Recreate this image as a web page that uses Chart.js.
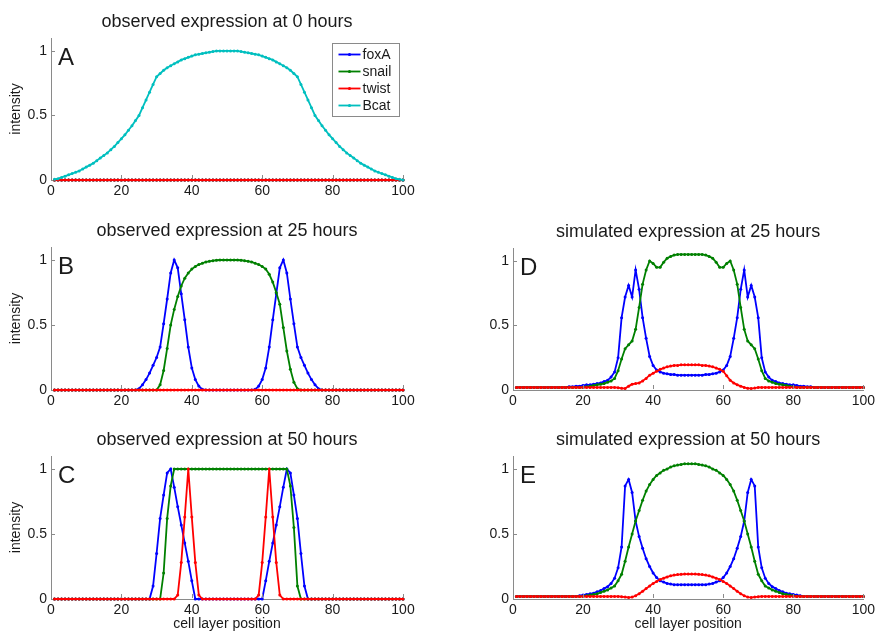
<!DOCTYPE html>
<html>
<head>
<meta charset="utf-8">
<title>foxA / snail / twist / Bcat expression</title>
<script src="https://cdn.jsdelivr.net/npm/chart.js@4.4.0/dist/chart.umd.min.js"></script>
<style>
	body { margin: 0; background: #fff; }
	#figure { position: relative; width: 878px; height: 633px; overflow: hidden; background: #fff; }
	#figure canvas { position: absolute; }
</style>
</head>
<body>
<div id="figure">
	<canvas id="panelA"></canvas>
	<canvas id="panelB"></canvas>
	<canvas id="panelC"></canvas>
	<canvas id="panelD"></canvas>
	<canvas id="panelE"></canvas>
</div>
<script>
// cell layer positions along the x axis
const cellPos = [
	1, 2, 3, 4, 5, 6, 7, 8, 9, 10,
	11, 12, 13, 14, 15, 16, 17, 18, 19, 20,
	21, 22, 23, 24, 25, 26, 27, 28, 29, 30,
	31, 32, 33, 34, 35, 36, 37, 38, 39, 40,
	41, 42, 43, 44, 45, 46, 47, 48, 49, 50,
	51, 52, 53, 54, 55, 56, 57, 58, 59, 60,
	61, 62, 63, 64, 65, 66, 67, 68, 69, 70,
	71, 72, 73, 74, 75, 76, 77, 78, 79, 80,
	81, 82, 83, 84, 85, 86, 87, 88, 89, 90,
	91, 92, 93, 94, 95, 96, 97, 98, 99, 100
];
const xTicks = [0, 20, 40, 60, 80, 100];
const yTicks = [0, 0.5, 1];
const geneNames = ["foxA", "snail", "twist", "Bcat"];

// no expression at all
const noExpr = [
	0, 0, 0, 0, 0, 0, 0, 0, 0, 0,
	0, 0, 0, 0, 0, 0, 0, 0, 0, 0,
	0, 0, 0, 0, 0, 0, 0, 0, 0, 0,
	0, 0, 0, 0, 0, 0, 0, 0, 0, 0,
	0, 0, 0, 0, 0, 0, 0, 0, 0, 0,
	0, 0, 0, 0, 0, 0, 0, 0, 0, 0,
	0, 0, 0, 0, 0, 0, 0, 0, 0, 0,
	0, 0, 0, 0, 0, 0, 0, 0, 0, 0,
	0, 0, 0, 0, 0, 0, 0, 0, 0, 0,
	0, 0, 0, 0, 0, 0, 0, 0, 0, 0
];

// A: observed at 0 hours
const bcat0 = [
	0.005, 0.01, 0.02, 0.03, 0.04, 0.05, 0.06, 0.07, 0.085, 0.10,
	0.115, 0.13, 0.15, 0.17, 0.19, 0.21, 0.235, 0.26, 0.29, 0.32,
	0.35, 0.385, 0.42, 0.46, 0.50, 0.56, 0.62, 0.68, 0.74, 0.80,
	0.825, 0.85, 0.87, 0.885, 0.90, 0.915, 0.93, 0.94, 0.95, 0.96,
	0.97, 0.975, 0.98, 0.985, 0.99, 0.995, 1, 1, 1, 1,
	1, 1, 1, 0.995, 0.99, 0.985, 0.98, 0.975, 0.97, 0.96,
	0.95, 0.94, 0.93, 0.915, 0.90, 0.885, 0.87, 0.85, 0.825, 0.80,
	0.74, 0.68, 0.62, 0.56, 0.50, 0.46, 0.42, 0.385, 0.35, 0.32,
	0.29, 0.26, 0.235, 0.21, 0.19, 0.17, 0.15, 0.13, 0.115, 0.10,
	0.085, 0.07, 0.06, 0.05, 0.04, 0.03, 0.02, 0.01, 0.005, 0
];

// B: observed at 25 hours
const foxA25obs = [
	0, 0, 0, 0, 0, 0, 0, 0, 0, 0,
	0, 0, 0, 0, 0, 0, 0, 0, 0, 0,
	0, 0, 0, 0, 0.01, 0.04, 0.08, 0.13, 0.19, 0.25,
	0.33, 0.51, 0.70, 0.90, 1, 0.94, 0.74, 0.54, 0.33, 0.17,
	0.08, 0.03, 0.005, 0, 0, 0, 0, 0, 0, 0,
	0, 0, 0, 0, 0, 0, 0, 0.005, 0.03, 0.08,
	0.17, 0.33, 0.54, 0.74, 0.94, 1, 0.90, 0.70, 0.51, 0.33,
	0.25, 0.19, 0.13, 0.08, 0.04, 0.01, 0, 0, 0, 0,
	0, 0, 0, 0, 0, 0, 0, 0, 0, 0,
	0, 0, 0, 0, 0, 0, 0, 0, 0, 0
];
const snail25obs = [
	0, 0, 0, 0, 0, 0, 0, 0, 0, 0,
	0, 0, 0, 0, 0, 0, 0, 0, 0, 0,
	0, 0, 0, 0, 0, 0, 0, 0, 0, 0,
	0.04, 0.15, 0.32, 0.50, 0.62, 0.72, 0.80, 0.86, 0.90, 0.93,
	0.95, 0.965, 0.975, 0.985, 0.99, 0.995, 0.998, 1, 1, 1,
	1, 1, 1, 0.998, 0.995, 0.99, 0.985, 0.975, 0.965, 0.95,
	0.93, 0.89, 0.83, 0.75, 0.66, 0.48, 0.30, 0.16, 0.06, 0.01,
	0, 0, 0, 0, 0, 0, 0, 0, 0, 0,
	0, 0, 0, 0, 0, 0, 0, 0, 0, 0,
	0, 0, 0, 0, 0, 0, 0, 0, 0, 0
];

// C: observed at 50 hours
const foxA50obs = [
	0, 0, 0, 0, 0, 0, 0, 0, 0, 0,
	0, 0, 0, 0, 0, 0, 0, 0, 0, 0,
	0, 0, 0, 0, 0, 0, 0, 0, 0.1, 0.35,
	0.62, 0.80, 0.97, 1, 0.86, 0.71, 0.57, 0.43, 0.29, 0.14,
	0, 0, 0, 0, 0, 0, 0, 0, 0, 0,
	0, 0, 0, 0, 0, 0, 0, 0, 0, 0,
	0.14, 0.29, 0.43, 0.57, 0.71, 0.86, 1, 0.97, 0.80, 0.62,
	0.35, 0.1, 0, 0, 0, 0, 0, 0, 0, 0,
	0, 0, 0, 0, 0, 0, 0, 0, 0, 0,
	0, 0, 0, 0, 0, 0, 0, 0, 0, 0
];
const snail50obs = [
	0, 0, 0, 0, 0, 0, 0, 0, 0, 0,
	0, 0, 0, 0, 0, 0, 0, 0, 0, 0,
	0, 0, 0, 0, 0, 0, 0, 0, 0, 0,
	0, 0.2, 0.62, 0.87, 1, 1, 1, 1, 1, 1,
	1, 1, 1, 1, 1, 1, 1, 1, 1, 1,
	1, 1, 1, 1, 1, 1, 1, 1, 1, 1,
	1, 1, 1, 1, 1, 1, 1, 0.87, 0.55, 0.1,
	0, 0, 0, 0, 0, 0, 0, 0, 0, 0,
	0, 0, 0, 0, 0, 0, 0, 0, 0, 0,
	0, 0, 0, 0, 0, 0, 0, 0, 0, 0
];
const twist50obs = [
	0, 0, 0, 0, 0, 0, 0, 0, 0, 0,
	0, 0, 0, 0, 0, 0, 0, 0, 0, 0,
	0, 0, 0, 0, 0, 0, 0, 0, 0, 0,
	0, 0, 0, 0, 0, 0.03, 0.28, 0.63, 1, 0.63,
	0.28, 0.03, 0, 0, 0, 0, 0, 0, 0, 0,
	0, 0, 0, 0, 0, 0, 0, 0, 0.03, 0.28,
	0.63, 1, 0.63, 0.28, 0.03, 0, 0, 0, 0, 0,
	0, 0, 0, 0, 0, 0, 0, 0, 0, 0,
	0, 0, 0, 0, 0, 0, 0, 0, 0, 0,
	0, 0, 0, 0, 0, 0, 0, 0, 0, 0
];

// D: simulated at 25 hours
const foxA25sim = [
	0.02, 0.02, 0.02, 0.02, 0.02, 0.02, 0.02, 0.02, 0.02, 0.02,
	0.02, 0.02, 0.02, 0.02, 0.02, 0.025, 0.025, 0.03, 0.03, 0.035,
	0.04, 0.04, 0.045, 0.05, 0.055, 0.065, 0.075, 0.10, 0.14, 0.25,
	0.56, 0.72, 0.81, 0.72, 0.93, 0.78, 0.56, 0.40, 0.26, 0.19,
	0.155, 0.14, 0.13, 0.125, 0.12, 0.12, 0.115, 0.115, 0.115, 0.115,
	0.115, 0.115, 0.115, 0.115, 0.12, 0.12, 0.125, 0.13, 0.14, 0.155,
	0.19, 0.26, 0.40, 0.56, 0.78, 0.93, 0.72, 0.81, 0.72, 0.56,
	0.25, 0.14, 0.10, 0.075, 0.065, 0.055, 0.05, 0.045, 0.04, 0.04,
	0.035, 0.03, 0.03, 0.025, 0.025, 0.02, 0.02, 0.02, 0.02, 0.02,
	0.02, 0.02, 0.02, 0.02, 0.02, 0.02, 0.02, 0.02, 0.02, 0.02
];
const snail25sim = [
	0.02, 0.02, 0.02, 0.02, 0.02, 0.02, 0.02, 0.02, 0.02, 0.02,
	0.02, 0.02, 0.02, 0.02, 0.02, 0.02, 0.02, 0.02, 0.02, 0.02,
	0.025, 0.03, 0.035, 0.04, 0.045, 0.05, 0.06, 0.07, 0.09, 0.15,
	0.24, 0.32, 0.35, 0.38, 0.47, 0.64, 0.82, 0.93, 1.0, 0.98,
	0.95, 0.95, 0.99, 1.02, 1.035, 1.045, 1.05, 1.05, 1.05, 1.05,
	1.05, 1.05, 1.05, 1.05, 1.045, 1.035, 1.02, 0.99, 0.95, 0.95,
	0.98, 1.0, 0.93, 0.82, 0.64, 0.47, 0.38, 0.35, 0.32, 0.24,
	0.15, 0.09, 0.07, 0.06, 0.05, 0.045, 0.04, 0.035, 0.03, 0.025,
	0.02, 0.02, 0.02, 0.02, 0.02, 0.02, 0.02, 0.02, 0.02, 0.02,
	0.02, 0.02, 0.02, 0.02, 0.02, 0.02, 0.02, 0.02, 0.02, 0.02
];
const twist25sim = [
	0.02, 0.02, 0.02, 0.02, 0.02, 0.02, 0.02, 0.02, 0.02, 0.02,
	0.02, 0.02, 0.02, 0.02, 0.02, 0.02, 0.02, 0.02, 0.02, 0.02,
	0.02, 0.02, 0.02, 0.02, 0.02, 0.02, 0.02, 0.02, 0.02, 0.018,
	0.013, 0.012, 0.03, 0.045, 0.05, 0.055, 0.07, 0.09, 0.115, 0.13,
	0.145, 0.16, 0.17, 0.18, 0.185, 0.19, 0.19, 0.195, 0.195, 0.195,
	0.195, 0.195, 0.195, 0.19, 0.19, 0.185, 0.18, 0.17, 0.16, 0.145,
	0.11, 0.075, 0.055, 0.04, 0.03, 0.02, 0.013, 0.012, 0.015, 0.02,
	0.02, 0.02, 0.02, 0.02, 0.02, 0.02, 0.02, 0.02, 0.02, 0.02,
	0.02, 0.02, 0.02, 0.02, 0.02, 0.02, 0.02, 0.02, 0.02, 0.02,
	0.02, 0.02, 0.02, 0.02, 0.02, 0.02, 0.02, 0.02, 0.02, 0.02
];

// E: simulated at 50 hours
const foxA50sim = [
	0.02, 0.02, 0.02, 0.02, 0.02, 0.02, 0.02, 0.02, 0.02, 0.02,
	0.02, 0.02, 0.02, 0.02, 0.02, 0.02, 0.02, 0.02, 0.025, 0.03,
	0.035, 0.04, 0.045, 0.055, 0.065, 0.08, 0.095, 0.12, 0.16, 0.24,
	0.40, 0.87, 0.92, 0.82, 0.60, 0.48, 0.39, 0.31, 0.25, 0.20,
	0.165, 0.14, 0.13, 0.12, 0.115, 0.11, 0.11, 0.11, 0.11, 0.11,
	0.11, 0.11, 0.11, 0.11, 0.11, 0.115, 0.12, 0.13, 0.14, 0.165,
	0.20, 0.25, 0.31, 0.39, 0.48, 0.60, 0.82, 0.92, 0.87, 0.40,
	0.24, 0.16, 0.12, 0.095, 0.08, 0.065, 0.055, 0.045, 0.04, 0.035,
	0.03, 0.025, 0.02, 0.02, 0.02, 0.02, 0.02, 0.02, 0.02, 0.02,
	0.02, 0.02, 0.02, 0.02, 0.02, 0.02, 0.02, 0.02, 0.02, 0.02
];
const snail50sim = [
	0.02, 0.02, 0.02, 0.02, 0.02, 0.02, 0.02, 0.02, 0.02, 0.02,
	0.02, 0.02, 0.02, 0.02, 0.02, 0.02, 0.02, 0.02, 0.02, 0.02,
	0.025, 0.03, 0.035, 0.04, 0.05, 0.06, 0.07, 0.085, 0.10, 0.14,
	0.19, 0.29, 0.40, 0.50, 0.60, 0.68, 0.76, 0.83, 0.88, 0.92,
	0.95, 0.97, 0.99, 1.0, 1.015, 1.025, 1.03, 1.035, 1.04, 1.04,
	1.04, 1.04, 1.035, 1.03, 1.025, 1.015, 1.0, 0.99, 0.97, 0.95,
	0.92, 0.88, 0.83, 0.76, 0.68, 0.60, 0.50, 0.40, 0.29, 0.19,
	0.14, 0.10, 0.085, 0.07, 0.06, 0.05, 0.04, 0.035, 0.03, 0.025,
	0.02, 0.02, 0.02, 0.02, 0.02, 0.02, 0.02, 0.02, 0.02, 0.02,
	0.02, 0.02, 0.02, 0.02, 0.02, 0.02, 0.02, 0.02, 0.02, 0.02
];
const twist50sim = [
	0.02, 0.02, 0.02, 0.02, 0.02, 0.02, 0.02, 0.02, 0.02, 0.02,
	0.02, 0.02, 0.02, 0.02, 0.02, 0.02, 0.02, 0.02, 0.02, 0.02,
	0.02, 0.02, 0.02, 0.02, 0.02, 0.02, 0.02, 0.02, 0.02, 0.02,
	0.018, 0.015, 0.012, 0.015, 0.025, 0.04, 0.06, 0.08, 0.10, 0.12,
	0.135, 0.15, 0.16, 0.17, 0.178, 0.184, 0.188, 0.19, 0.192, 0.192,
	0.192, 0.192, 0.19, 0.188, 0.184, 0.178, 0.17, 0.16, 0.15, 0.135,
	0.12, 0.10, 0.08, 0.06, 0.04, 0.025, 0.015, 0.012, 0.015, 0.018,
	0.02, 0.02, 0.02, 0.02, 0.02, 0.02, 0.02, 0.02, 0.02, 0.02,
	0.02, 0.02, 0.02, 0.02, 0.02, 0.02, 0.02, 0.02, 0.02, 0.02,
	0.02, 0.02, 0.02, 0.02, 0.02, 0.02, 0.02, 0.02, 0.02, 0.02
];

const geneColors = ["#0000ff", "#008000", "#ff0000", "#00bfbf"];
const axisColor = "#8a8a8a";
const textColor = "#1a1a1a";
const fontFamily = "'Liberation Sans', Arial, Helvetica, sans-serif";

Chart.defaults.font.family = fontFamily;
Chart.defaults.color = textColor;

// titles, panel letters, inward tick marks and the legend box
const panelDeco = {
	id: "panelDeco",
	afterDraw(chart, args, opts) {
		const ctx = chart.ctx;
		const area = chart.chartArea;
		const xs = chart.scales.x;
		const ys = chart.scales.y;
		ctx.save();

		ctx.strokeStyle = axisColor;
		ctx.lineWidth = 1;
		ctx.beginPath();
		xs.ticks.forEach((t) => {
			const px = Math.round(xs.getPixelForValue(t.value)) + 0.5;
			ctx.moveTo(px, area.bottom - 1);
			ctx.lineTo(px, area.bottom - 5);
		});
		ys.ticks.forEach((t) => {
			if (t.value === 0) return;
			const py = Math.round(ys.getPixelForValue(t.value)) + 0.5;
			ctx.moveTo(area.left, py);
			ctx.lineTo(area.left + 4, py);
		});
		ctx.stroke();

		ctx.fillStyle = textColor;
		ctx.textBaseline = "alphabetic";
		ctx.textAlign = "center";
		ctx.font = "18px " + fontFamily;
		ctx.fillText(opts.title, (area.left + area.right) / 2, area.top - 11);

		ctx.textAlign = "left";
		ctx.font = "24px " + fontFamily;
		ctx.fillText(opts.letter, area.left + 7, area.top + 27);

		if (opts.legend) {
			const sets = chart.data.datasets;
			const boxW = 67;
			const boxH = 73;
			const bx = Math.round(area.right - 4 - boxW) + 0.5;
			const by = Math.round(area.top + 5) + 0.5;
			ctx.fillStyle = "#ffffff";
			ctx.fillRect(bx, by, boxW, boxH);
			ctx.strokeStyle = axisColor;
			ctx.strokeRect(bx, by, boxW, boxH);
			ctx.font = "14px " + fontFamily;
			ctx.textBaseline = "middle";
			sets.forEach((ds, i) => {
				const ly = by + 11 + i * 17;
				ctx.strokeStyle = ds.borderColor;
				ctx.lineWidth = 1.8;
				ctx.beginPath();
				ctx.moveTo(bx + 6, ly);
				ctx.lineTo(bx + 28, ly);
				ctx.stroke();
				ctx.fillStyle = ds.borderColor;
				ctx.beginPath();
				ctx.arc(bx + 17, ly, 1.6, 0, Math.PI * 2);
				ctx.fill();
				ctx.fillStyle = textColor;
				ctx.fillText(ds.label, bx + 30, ly + 1);
			});
		}
		ctx.restore();
	}
};

function makePanel(id, cfg) {
	const canvas = document.getElementById(id);
	canvas.width = cfg.width;
	canvas.height = cfg.height;
	canvas.style.left = cfg.left + "px";
	canvas.style.top = cfg.top + "px";

	const datasets = cfg.series.map((values, i) => ({
		label: geneNames[i],
		data: cellPos.map((x, j) => ({ x: x, y: values[j] })),
		borderColor: geneColors[i],
		backgroundColor: geneColors[i],
		borderWidth: 1.8,
		pointRadius: 1.5,
		pointBorderWidth: 0,
		pointHoverRadius: 0,
		tension: 0,
		clip: 6, // zero lines sit on the axis and must not be cut in half
		order: cfg.series.length - i // later genes are drawn on top
	}));

	return new Chart(canvas.getContext("2d"), {
		type: "line",
		data: { datasets: datasets },
		options: {
			responsive: false,
			animation: false,
			devicePixelRatio: 1,
			events: [],
			layout: { padding: { left: 0, top: 38, right: cfg.padRight, bottom: 0 } },
			plugins: {
				legend: { display: false },
				tooltip: { enabled: false },
				panelDeco: { title: cfg.title, letter: cfg.letter, legend: cfg.legend }
			},
			scales: {
				x: {
					type: "linear",
					min: 0,
					max: 100,
					afterBuildTicks: (s) => { s.ticks = xTicks.map((v) => ({ value: v })); },
					afterFit: (s) => { s.height = cfg.xAxisHeight; },
					grid: { display: true, drawOnChartArea: false, drawTicks: false },
					border: { display: true, color: axisColor, width: 1 },
					ticks: { padding: 3, color: textColor, font: { size: 14 }, maxRotation: 0, autoSkip: false, callback: (v) => String(v) },
					title: { display: !!cfg.xTitle, text: cfg.xTitle || "", color: textColor, font: { size: 14 }, padding: { top: 0, bottom: 0 } }
				},
				y: {
					type: "linear",
					min: 0,
					max: 1.1,
					afterBuildTicks: (s) => { s.ticks = yTicks.map((v) => ({ value: v })); },
					afterFit: (s) => { s.width = 51; },
					grid: { display: true, drawOnChartArea: false, drawTicks: false },
					border: { display: true, color: axisColor, width: 1 },
					ticks: { padding: 4, color: textColor, font: { size: 14 }, callback: (v) => String(v) },
					title: { display: !!cfg.yTitle, text: cfg.yTitle || "", color: textColor, font: { size: 14 }, padding: { top: 8, bottom: 0 } }
				}
			}
		},
		plugins: [panelDeco]
	});
}

document.addEventListener("DOMContentLoaded", function () {
	makePanel("panelA", {
		left: 0, top: 0, width: 430, height: 204, padRight: 27, xAxisHeight: 24,
		title: "observed expression at 0 hours", letter: "A", yTitle: "intensity", legend: true,
		series: [noExpr, noExpr, noExpr, bcat0]
	});
	makePanel("panelB", {
		left: 0, top: 209, width: 430, height: 205, padRight: 27, xAxisHeight: 24,
		title: "observed expression at 25 hours", letter: "B", yTitle: "intensity",
		series: [foxA25obs, snail25obs, noExpr]
	});
	makePanel("panelC", {
		left: 0, top: 418, width: 430, height: 215, padRight: 27, xAxisHeight: 34,
		title: "observed expression at 50 hours", letter: "C", yTitle: "intensity", xTitle: "cell layer position",
		series: [foxA50obs, snail50obs, twist50obs]
	});
	makePanel("panelD", {
		left: 462, top: 210, width: 416, height: 204, padRight: 14, xAxisHeight: 24,
		title: "simulated expression at 25 hours", letter: "D",
		series: [foxA25sim, snail25sim, twist25sim]
	});
	makePanel("panelE", {
		left: 462, top: 418, width: 416, height: 215, padRight: 14, xAxisHeight: 34,
		title: "simulated expression at 50 hours", letter: "E", xTitle: "cell layer position",
		series: [foxA50sim, snail50sim, twist50sim]
	});
});
</script>
</body>
</html>
